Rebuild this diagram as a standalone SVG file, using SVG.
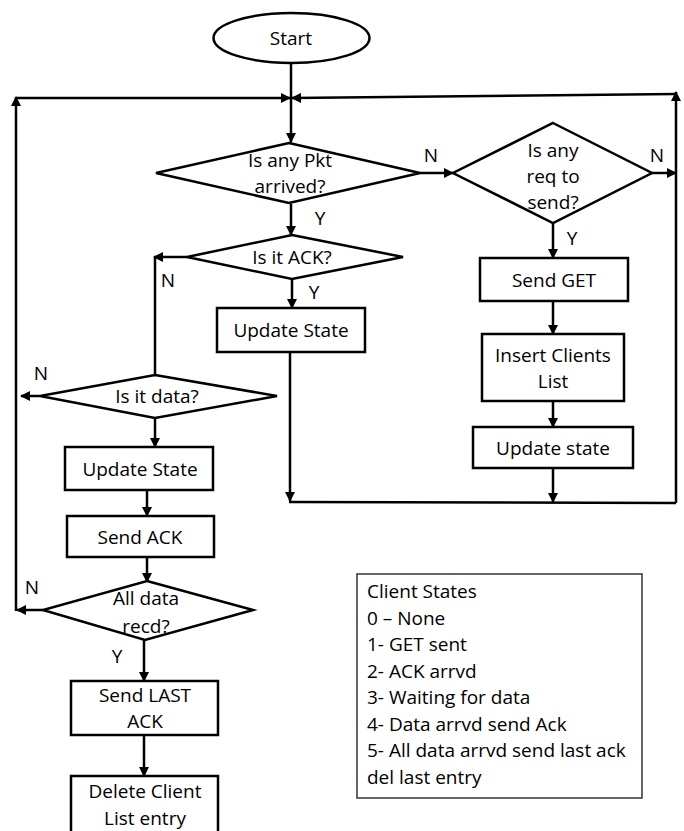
<svg xmlns="http://www.w3.org/2000/svg" width="684" height="831" viewBox="0 0 684 831">
  <style>
    .shape { fill: #fff; stroke: #000; stroke-width: 2.5; }
    .line { fill: none; stroke: #000; stroke-width: 2.5; }
    .arrow { fill: none; stroke: #000; stroke-width: 2.5; marker-end: url(#head); }
    text { font-family: "Open Sans", "Noto Sans", sans-serif; font-size: 19px; fill: #000; }
    .c { text-anchor: middle; }
    .legend { fill: #fff; stroke: #333; stroke-width: 1.5; }
    .lt { font-size: 19px; }
  </style>
  <defs>
    <marker id="head" markerUnits="userSpaceOnUse" markerWidth="10" markerHeight="10" refX="9" refY="5" orient="auto">
      <path d="M0,0 L10,5 L0,10 z" fill="#000"/>
    </marker>
  </defs>

  <!-- connectors -->
  <g id="connectors">
    <line class="line" x1="291" y1="63" x2="291" y2="98"/>
    <line class="arrow" x1="291" y1="98" x2="291" y2="142"/>
    <!-- loop back along the left edge -->
    <polyline class="arrow" points="43,610 17,610"/>
    <polyline class="arrow" points="16,611 16,97"/>
    <line class="arrow" x1="16" y1="98" x2="290" y2="98"/>
    <!-- loop back along the right edge -->
    <polyline class="line" points="289,502 676,503"/>
    <polyline class="arrow" points="676,503 676,92"/>
    <line class="arrow" x1="676" y1="94" x2="292" y2="98"/>
    <!-- packet branch -->
    <line class="arrow" x1="291" y1="204" x2="291" y2="235"/>
    <line class="arrow" x1="187" y1="257" x2="154" y2="257"/>
    <line class="line" x1="155" y1="257" x2="155" y2="375"/>
    <line class="arrow" x1="40" y1="396" x2="21" y2="396"/>
    <line class="arrow" x1="155" y1="418" x2="155" y2="447"/>
    <line class="arrow" x1="147" y1="490" x2="147" y2="516"/>
    <line class="arrow" x1="147" y1="557" x2="147" y2="582"/>
    <line class="arrow" x1="144" y1="640" x2="144" y2="681"/>
    <line class="arrow" x1="144" y1="735" x2="144" y2="776"/>
    <line class="arrow" x1="292" y1="279" x2="292" y2="308"/>
    <line class="arrow" x1="290" y1="352" x2="290" y2="501"/>
    <!-- request branch -->
    <line class="arrow" x1="420" y1="173" x2="453" y2="173"/>
    <line class="arrow" x1="652" y1="173" x2="676" y2="173"/>
    <line class="arrow" x1="553" y1="223" x2="553" y2="258"/>
    <line class="arrow" x1="553" y1="301" x2="553" y2="334"/>
    <line class="arrow" x1="553" y1="401" x2="553" y2="427"/>
    <line class="arrow" x1="553" y1="468" x2="553" y2="502"/>
    <!-- branch labels -->
    <text x="320" y="225" class="c">Y</text>
    <text x="431" y="162" class="c">N</text>
    <text x="657" y="162" class="c">N</text>
    <text x="572" y="245" class="c">Y</text>
    <text x="168" y="287" class="c">N</text>
    <text x="314" y="299" class="c">Y</text>
    <text x="41" y="380" class="c">N</text>
    <text x="32" y="594" class="c">N</text>
    <text x="117" y="663" class="c">Y</text>
  </g>

  <g id="start">
    <ellipse class="shape" cx="291.5" cy="38" rx="78" ry="25"/>
    <text x="291" y="45" class="c">Start</text>
  </g>

  <g id="pkt-arrived">
    <polygon class="shape" points="289,143 420,173 289,203 156,173"/>
    <text x="290" y="167" class="c">Is any Pkt</text>
    <text x="290" y="193" class="c">arrived?</text>
  </g>

  <g id="is-ack">
    <polygon class="shape" points="292,235 403,257 292,279 187,257"/>
    <text x="292" y="264" class="c">Is it ACK?</text>
  </g>

  <g id="update-state-ack">
    <rect class="shape" x="217" y="308" width="148" height="44"/>
    <text x="291" y="337" class="c">Update State</text>
  </g>

  <g id="is-data">
    <polygon class="shape" points="155,375 277,396 155,418 40,396"/>
    <text x="157" y="403" class="c">Is it data?</text>
  </g>

  <g id="update-state-data">
    <rect class="shape" x="65" y="447" width="148" height="43"/>
    <text x="140" y="476" class="c">Update State</text>
  </g>

  <g id="send-ack">
    <rect class="shape" x="67" y="516" width="147" height="41"/>
    <text x="140" y="544" class="c">Send ACK</text>
  </g>

  <g id="all-data">
    <polygon class="shape" points="147,581 253,610 145,640 43,610"/>
    <text x="146" y="605" class="c">All data</text>
    <text x="146" y="633" class="c">recd?</text>
  </g>

  <g id="send-last-ack">
    <rect class="shape" x="71" y="681" width="147" height="54"/>
    <text x="145" y="702" class="c">Send LAST</text>
    <text x="145" y="728" class="c">ACK</text>
  </g>

  <g id="delete-entry">
    <rect class="shape" x="71" y="776" width="147" height="70"/>
    <text x="145" y="798" class="c">Delete Client</text>
    <text x="145" y="825" class="c">List entry</text>
  </g>

  <g id="req-to-send">
    <polygon class="shape" points="553,123 652,173 553,223 453,173"/>
    <text x="553" y="157" class="c">Is any</text>
    <text x="553" y="183" class="c">req to</text>
    <text x="553" y="209" class="c">send?</text>
  </g>

  <g id="send-get">
    <rect class="shape" x="480" y="258" width="148" height="43"/>
    <text x="554" y="287" class="c">Send GET</text>
  </g>

  <g id="insert-clients">
    <rect class="shape" x="482" y="334" width="142" height="67"/>
    <text x="553" y="362" class="c">Insert Clients</text>
    <text x="553" y="388" class="c">List</text>
  </g>

  <g id="update-state-req">
    <rect class="shape" x="473" y="427" width="160" height="41"/>
    <text x="553" y="455" class="c">Update state</text>
  </g>

  <g id="client-states">
    <rect class="legend" x="357" y="574" width="285" height="224"/>
    <text class="lt" x="367" y="598">Client States</text>
    <text class="lt" x="367" y="624.5">0 – None</text>
    <text class="lt" x="367" y="651">1- GET sent</text>
    <text class="lt" x="367" y="677.5">2- ACK arrvd</text>
    <text class="lt" x="367" y="704">3- Waiting for data</text>
    <text class="lt" x="367" y="730.5">4- Data arrvd send Ack</text>
    <text class="lt" x="367" y="757">5- All data arrvd send last ack</text>
    <text class="lt" x="367" y="783.5">del last entry</text>
  </g>
</svg>
